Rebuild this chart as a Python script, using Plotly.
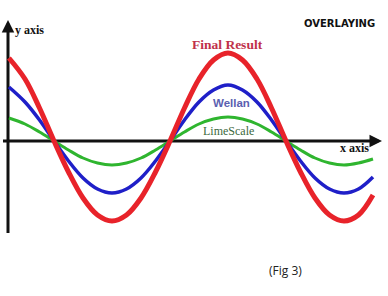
import plotly.graph_objects as go

# Phase along the x axis (degrees)
x_deg = [20, 45, 67.5, 90, 112.5, 135, 157.5, 180, 202.5, 225, 247.5, 270, 292.5,
         315, 337.5, 360, 382.5, 405, 427.5, 450, 472.5, 495, 517.5, 540, 562.5, 585]
final_result = [83, 62, 33, 0, -31, -57, -74, -80, -74, -57, -31, 0, 33,
                62, 81, 88, 81, 62, 33, 0, -31, -57, -74, -80, -74, -54]
wellan = [54, 39, 21, 0, -20, -37, -48, -52, -48, -37, -20, 0, 21,
          39, 51, 56, 51, 39, 21, 0, -20, -37, -48, -52, -48, -36]
limescale = [23, 17, 9, 0, -9, -17, -22, -24, -22, -17, -9, 0, 9,
             17, 22, 24, 22, 17, 9, 0, -9, -17, -22, -24, -22, -18]

W, H = 388, 296
X_RANGE = [6.2, 608.3]
Y_RANGE = [-155, 141]


def px(xp):
    return xp / W


def py(yp):
    return 1 - yp / H


fig = go.Figure()
for vals, col, wd in [(limescale, "#2fb52f", 3), (wellan, "#1f1fc8", 3.5), (final_result, "#e8232a", 5)]:
    fig.add_trace(go.Scatter(x=x_deg, y=vals, mode="lines",
                             line=dict(color=col, width=wd, shape="spline", smoothing=1.0),
                             showlegend=False, hoverinfo="skip"))

shapes = [
    dict(type="line", xref="paper", yref="paper", x0=px(8), x1=px(8), y0=py(233), y1=py(24),
         line=dict(color="#111111", width=3), layer="below"),
    dict(type="line", xref="paper", yref="paper", x0=px(3), x1=px(378), y0=py(141), y1=py(141),
         line=dict(color="#111111", width=3), layer="below"),
]


def label(text, xc, yc, family, size, color):
    return dict(xref="paper", yref="paper", x=px(xc), y=py(yc), xanchor="center", yanchor="middle",
                text=text, showarrow=False, font=dict(family=family, size=size, color=color))


annotations = [
    dict(xref="paper", yref="paper", x=px(8), y=py(20), ax=0, ay=12, text="", showarrow=True,
         arrowhead=2, arrowsize=1, arrowwidth=2.5, arrowcolor="#111111"),
    dict(xref="paper", yref="paper", x=px(382), y=py(141), ax=-12, ay=0, text="", showarrow=True,
         arrowhead=2, arrowsize=1, arrowwidth=2.5, arrowcolor="#111111"),
    label("<b>y axis</b>", 29, 30, "Liberation Serif", 12, "#111111"),
    label("<b>x axis</b>", 354, 148, "Liberation Serif", 12, "#111111"),
    label("<b>OVERLAYING</b>", 339, 23, "DejaVu Sans", 10, "#111111"),
    label("<b>Final Result</b>", 227, 45, "Liberation Serif", 13.5, "#c0304a"),
    label("<b>Wellan</b>", 231, 103, "Liberation Sans", 11.5, "#5a60b0"),
    label("LimeScale", 228, 131, "Liberation Serif", 12, "#3d6a3d"),
    label("(Fig 3)", 285, 270, "Open Sans", 12, "#222222"),
]

fig.update_layout(
    width=W, height=H, autosize=False,
    margin=dict(l=0, r=0, t=0, b=0),
    paper_bgcolor="white", plot_bgcolor="white",
    xaxis=dict(range=X_RANGE, visible=False, fixedrange=True),
    yaxis=dict(range=Y_RANGE, visible=False, fixedrange=True),
    shapes=shapes, annotations=annotations,
)
fig.write_html("out.html")
